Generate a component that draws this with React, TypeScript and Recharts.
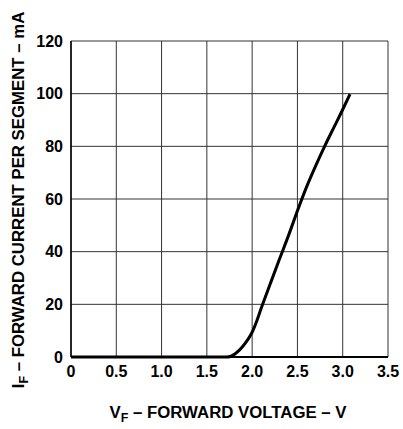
import React from "react";
import { CartesianGrid, Label, Line, LineChart, XAxis, YAxis } from "recharts";

const voltage = [0, 0.5, 1.0, 1.5, 1.72, 1.76, 1.8, 1.85, 1.9, 1.95, 2.0, 2.05, 2.1, 2.2, 2.3, 2.4, 2.5, 2.6, 2.7, 2.8, 2.9, 3.0, 3.08];
const current = [0, 0, 0, 0, 0, 0.2, 0.9, 2.3, 4.2, 6.5, 9.4, 13.6, 18.5, 27.8, 37, 46, 55.5, 64.5, 72.5, 80, 87, 94, 99.8];

const xTicks = [0, 0.5, 1.0, 1.5, 2.0, 2.5, 3.0, 3.5];
const yTicks = [0, 20, 40, 60, 80, 100, 120];

const xTitle = ["V", "F", " – FORWARD VOLTAGE – V"];
const yTitle = ["I", "F", " – FORWARD CURRENT PER SEGMENT – mA"];

const data = voltage.map((v, i) => ({ v, i: current[i] }));

const font = "'Liberation Sans', Arial, Helvetica, sans-serif";
const tickStyle = { fontSize: 16, fontWeight: 700, fill: "#000", fontFamily: font };

function Title({ parts, x, y, rotate }: { parts: string[]; x: number; y: number; rotate?: boolean }) {
  return (
    <text
      x={x}
      y={y}
      textAnchor="middle"
      transform={rotate ? `rotate(-90, ${x}, ${y})` : undefined}
      style={{ fontSize: 16.8, fontWeight: 700, fontFamily: font, fill: "#000" }}
    >
      <tspan>{parts[0]}</tspan>
      <tspan dy={4} fontSize={12.5}>{parts[1]}</tspan>
      <tspan dy={-4}>{parts[2]}</tspan>
    </text>
  );
}

export default function App() {
  return (
    <div style={{ position: "absolute", left: 0, top: 0, background: "#fff" }}>
      <LineChart width={403} height={429} data={data} margin={{ top: 41, right: 15, bottom: 0, left: 0 }}>
        <CartesianGrid stroke="#333" strokeWidth={1} />
        <XAxis
          dataKey="v"
          type="number"
          domain={[0, 3.5]}
          ticks={xTicks}
          tickFormatter={(t: number) => (t === 0 ? "0" : t.toFixed(1))}
          tick={tickStyle}
          tickLine={false}
          tickSize={0}
          tickMargin={9}
          height={72}
          axisLine={{ stroke: "#000", strokeWidth: 2 }}
        >
          <Label content={() => <Title parts={xTitle} x={228} y={418} />} />
        </XAxis>
        <YAxis
          type="number"
          domain={[0, 120]}
          ticks={yTicks}
          tick={tickStyle}
          tickLine={false}
          tickSize={0}
          tickMargin={8}
          width={71}
          axisLine={{ stroke: "#000", strokeWidth: 1.5 }}
        >
          <Label content={() => <Title parts={yTitle} x={24} y={200} rotate />} />
        </YAxis>
        <Line
          dataKey="i"
          type="monotone"
          stroke="#000"
          strokeWidth={3}
          dot={false}
          isAnimationActive={false}
        />
      </LineChart>
    </div>
  );
}
